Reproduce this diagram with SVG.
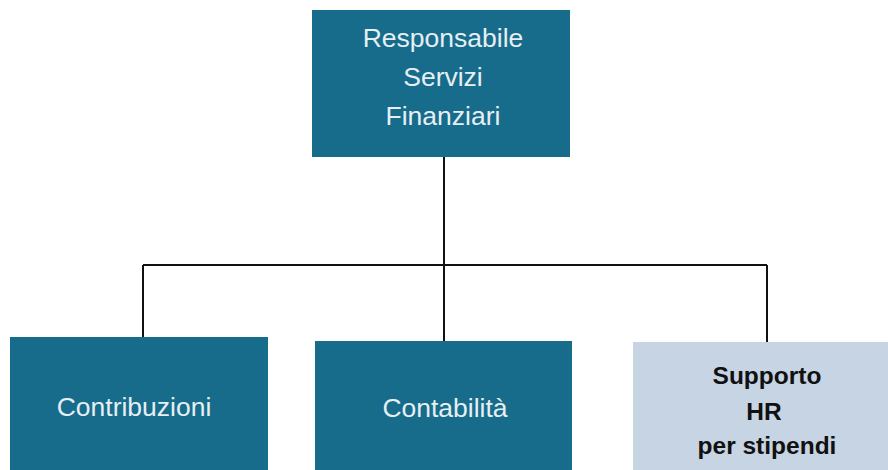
<svg xmlns="http://www.w3.org/2000/svg" width="888" height="470" viewBox="0 0 888 470">
<style>
.dark{fill:#176b8b}
.light{fill:#c6d4e4}
.t{font-family:"Liberation Sans",Arial,sans-serif;font-size:26.5px;text-anchor:middle}
.tl{fill:#e6eff3}
.td{fill:#111;font-weight:bold;font-size:24.5px}
.c{stroke:#111;stroke-width:2;fill:none}
</style>
<rect width="888" height="470" fill="#fff"/>
<g id="connectors">
<path class="c" d="M444 157V265M143 265H767M143 265V337M444 265V341M767 265V342"/>
</g>
<g id="top">
<rect class="dark" x="312" y="10" width="258" height="147"/>
<text class="t tl" x="443" y="47">Responsabile</text>
<text class="t tl" x="443" y="86">Servizi</text>
<text class="t tl" x="443" y="125">Finanziari</text>
</g>
<g id="contribuzioni">
<rect class="dark" x="10" y="337" width="258" height="140"/>
<text class="t tl" x="134" y="416">Contribuzioni</text>
</g>
<g id="contabilita">
<rect class="dark" x="315" y="341" width="257" height="140"/>
<text class="t tl" x="445" y="417">Contabilità</text>
</g>
<g id="supporto">
<rect class="light" x="633" y="342" width="260" height="140"/>
<text class="t td" x="767" y="384">Supporto</text>
<text class="t td" x="764" y="420">HR</text>
<text class="t td" x="767" y="454">per stipendi</text>
</g>
</svg>
